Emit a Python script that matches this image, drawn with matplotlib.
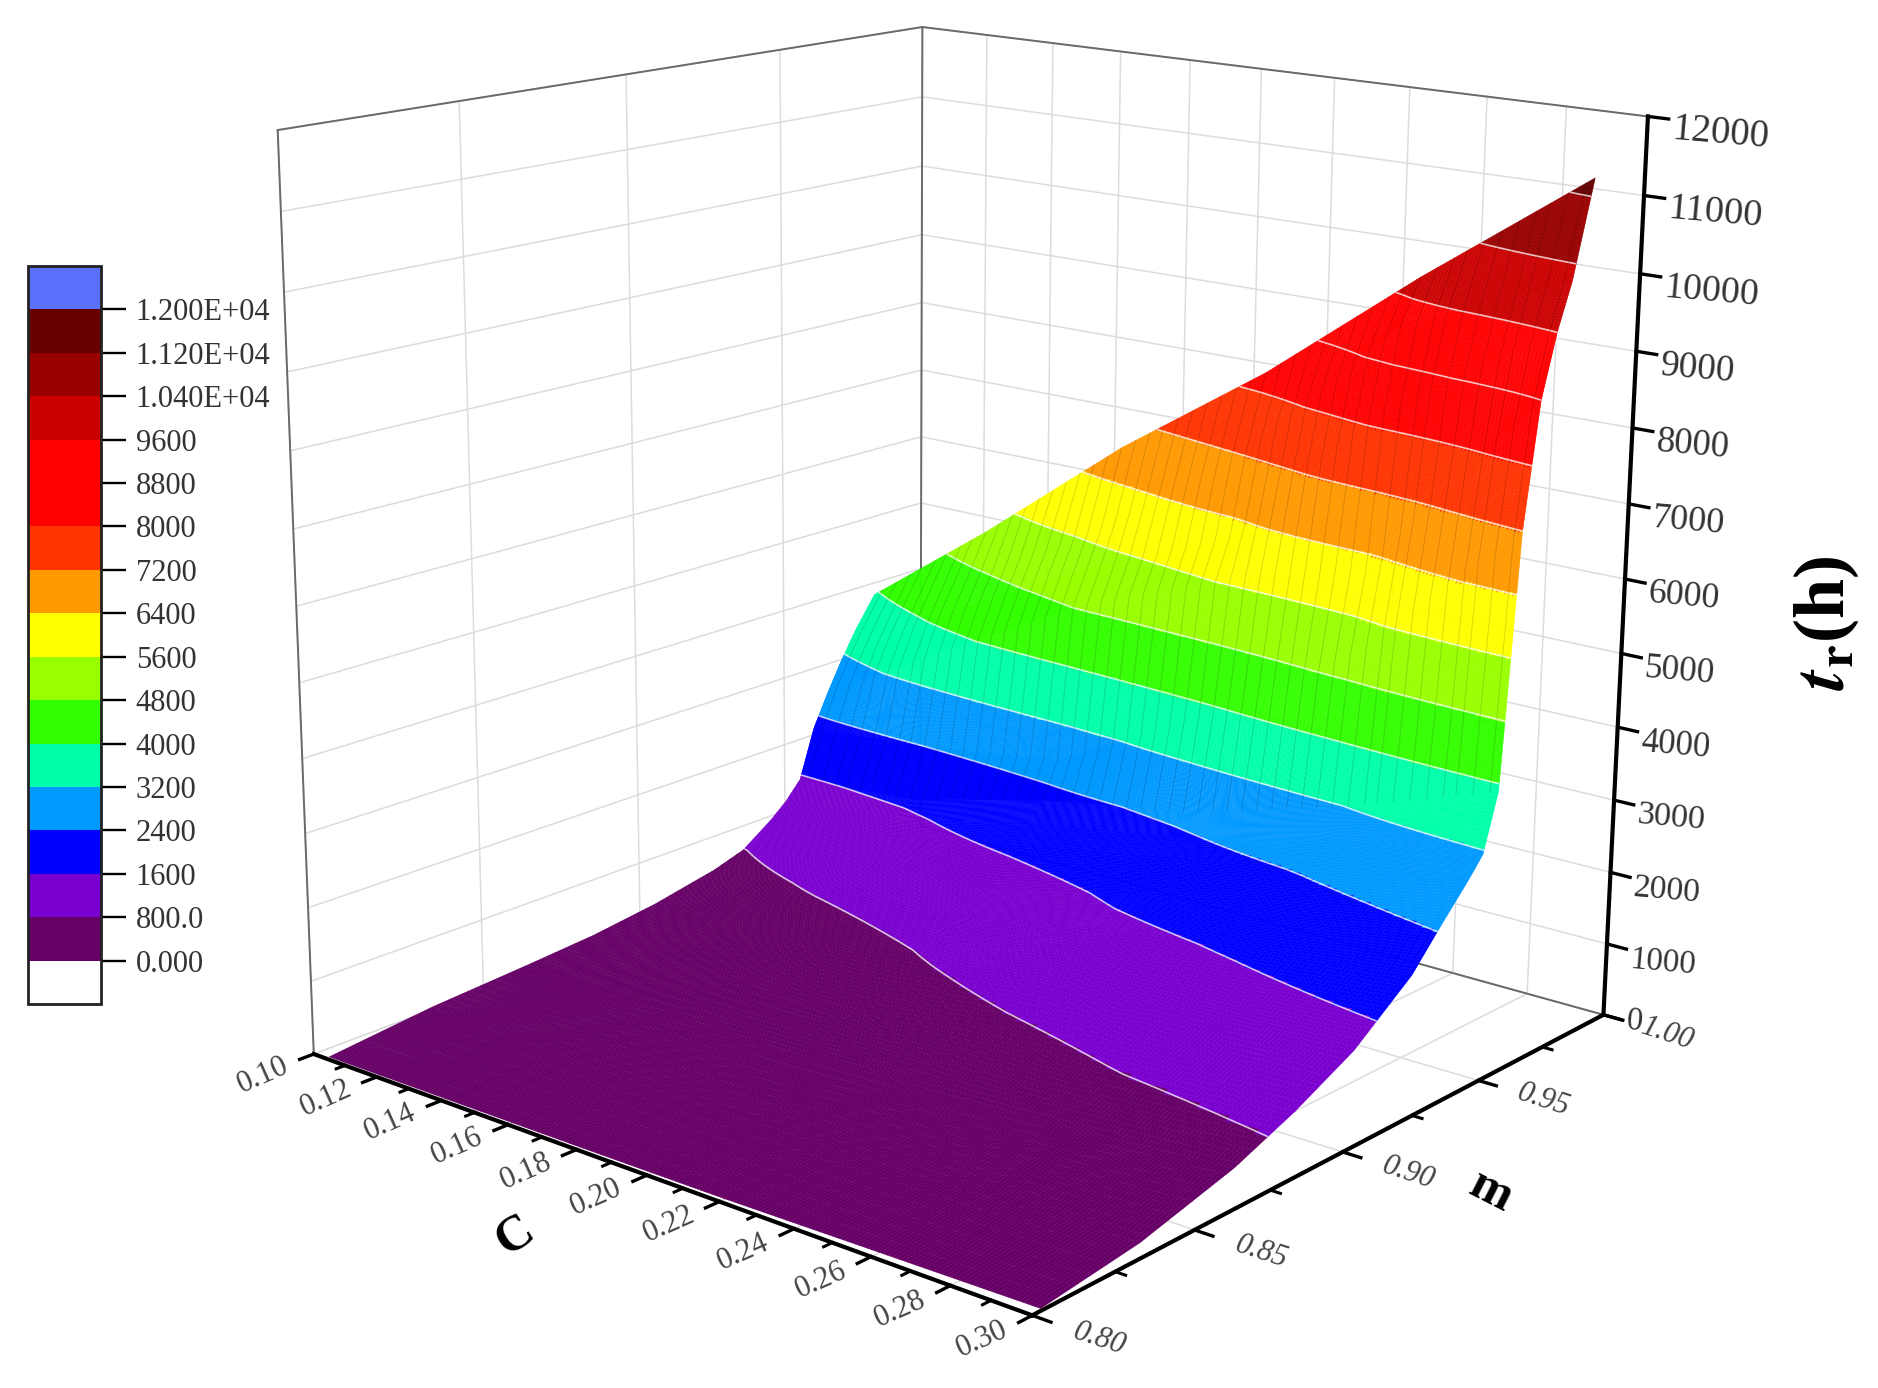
import numpy as np
import matplotlib
matplotlib.use("Agg")
import matplotlib.pyplot as plt
from matplotlib.colors import ListedColormap, BoundaryNorm
from matplotlib.cm import ScalarMappable
from mpl_toolkits.mplot3d import proj3d

plt.rcParams['font.family'] = ['Liberation Serif', 'DejaVu Serif']
plt.rcParams['mathtext.fontset'] = 'stix'

# surface: t_r over C (columns) and m (rows)
C_vals = [0.105, 0.14, 0.18, 0.22, 0.26, 0.302]
m_vals = [0.80, 0.83, 0.86, 0.88, 0.90, 0.92, 0.93, 0.94, 0.945, 0.95, 0.955, 0.96, 0.965, 0.97, 0.977]
tr_c10 = [40, 190, 280, 350, 470, 650, 790, 1100, 1290, 1540, 2240, 2700, 3120, 3500, 3950]
tr_c14 = [45, 140, 230, 320, 500, 860, 1080, 1340, 1480, 1700, 2400, 3700, 4240, 4640, 5250]
tr_c18 = [50, 120, 240, 400, 730, 1030, 1250, 1720, 1950, 2200, 2700, 4800, 5300, 5800, 6850]
tr_c22 = [60, 150, 340, 620, 1020, 1440, 1720, 2100, 2300, 2550, 3800, 5600, 6150, 7200, 8250]
tr_c26 = [90, 200, 450, 840, 1200, 1680, 2050, 2440, 2800, 3150, 5100, 6200, 8270, 9280, 9850]
tr_c30 = [120, 290, 620, 950, 1360, 1980, 2450, 2900, 3150, 3900, 7200, 8800, 9600, 10200, 11420]

levels = np.arange(0, 12001, 800)
band_colors = ['#660066', '#7a00d0', '#0000ff', '#0099ff', '#00ffaa', '#33ff00', '#99ff00', '#ffff00',
               '#ff9900', '#ff3300', '#ff0000', '#ff0000', '#cc0000', '#990000', '#660000']
bar_labels = ['0.000', '800.0', '1600', '2400', '3200', '4000', '4800', '5600', '6400', '7200', '8000',
              '8800', '9600', '1.040E+04', '1.120E+04', '1.200E+04']
C_major = [0.10, 0.12, 0.14, 0.16, 0.18, 0.20, 0.22, 0.24, 0.26, 0.28, 0.30]
C_minor = [0.11, 0.13, 0.15, 0.17, 0.19, 0.21, 0.23, 0.25, 0.27, 0.29]
m_major = [0.80, 0.85, 0.90, 0.95, 1.00]
m_minor = [0.825, 0.875, 0.925, 0.975]
z_major = list(range(0, 12001, 1000))

W, H = 1878, 1388
fig = plt.figure(figsize=(W/100, H/100), dpi=100)
ax = fig.add_axes([0.0827, -0.0142, 0.8454, 1.1438], projection='3d', computed_zorder=False)
ax.view_init(elev=15.63, azim=-50.29, roll=-0.34)
ax.set_box_aspect((0.993, 1.004, 1))
ax.set_proj_type('persp', focal_length=0.489)
ax.set_xlim(0.1, 0.3, view_margin=0)
ax.set_ylim(0.8, 1.0, view_margin=0)
ax.set_zlim(0, 12000, view_margin=0)
ax.set_xticks(C_major)
ax.set_yticks(m_major)
ax.set_zticks(z_major)
ax.set_xticklabels([])
ax.set_yticklabels([])
ax.set_zticklabels([])
for axis in (ax.xaxis, ax.yaxis, ax.zaxis):
    axis.set_pane_color('white')
    axis.pane.set_edgecolor('white')
    axis.line.set_color((0, 0, 0, 0))
    axis._axinfo['grid'].update(color='#dcdcdc', linewidth=1.1)
    axis._axinfo['tick'].update(inward_factor=0, outward_factor=0)

# box edges behind the surface
for cc, mm, zz in [([0.1, 0.1], [0.8, 0.8], [0, 12000]), ([0.1, 0.1], [1.0, 1.0], [0, 12000]),
                   ([0.1, 0.1], [0.8, 1.0], [12000, 12000]), ([0.1, 0.3], [1.0, 1.0], [12000, 12000]),
                   ([0.1, 0.3], [1.0, 1.0], [0, 0])]:
    ax.plot(cc, mm, zz, color='#6a6a6a', lw=1.4, zorder=1)

# fine mesh only to get clean band edges on the read-off surface
Z = np.array([tr_c10, tr_c14, tr_c18, tr_c22, tr_c26, tr_c30], dtype=float).T
def refine(v, counts):
    return np.concatenate([np.linspace(a, b, n, endpoint=False)
                           for a, b, n in zip(v[:-1], v[1:], counts)] + [[v[-1]]])
C_f = refine(C_vals, [40] * 5)
m_counts = np.maximum(6, np.ceil(np.abs(np.diff(Z, axis=0)).max(axis=1) / 30)).astype(int)
m_f = refine(m_vals, m_counts)
Z_c = np.array([np.interp(m_f, m_vals, Z[:, j]) for j in range(len(C_vals))]).T
Z_f = np.array([np.interp(C_f, C_vals, row) for row in Z_c])
CC, MM = np.meshgrid(C_f, m_f)

cmap = ListedColormap(band_colors)
norm = BoundaryNorm(levels, cmap.N)
mid = (Z_f[:-1, :-1] + Z_f[1:, :-1] + Z_f[:-1, 1:] + Z_f[1:, 1:]) / 4
surf = ax.plot_surface(CC, MM, Z_f, rstride=1, cstride=1, facecolors=cmap(norm(mid)), shade=False,
                       linewidth=0.3, antialiased=True, zorder=2)
surf.set_edgecolor(surf._facecolor3d)
cs = ax.contour(CC, MM, Z_f, levels=levels[1:-1], colors='white', linewidths=1.2, alpha=0.75, zorder=3)
cs.set_zorder(3)

# faint mesh lines on the steep part
steep = m_f >= 0.95
for c in np.arange(0.108, 0.3001, 0.004):
    j = np.argmin(abs(C_f - c))
    ax.plot(C_f[j] * np.ones(steep.sum()), m_f[steep], Z_f[steep, j], color='k', lw=0.8, alpha=0.13, zorder=4)

M = ax.get_proj()
def label(c, m, z, s, **kw):
    x2, y2, _ = proj3d.proj_transform(c, m, z, M)
    ax.text2D(x2, y2, s, transform=ax.transData, rotation_mode='anchor', va='center', **kw)

# axes drawn by hand, they sit on the box edges as in the original
ax.plot([0.1, 0.3], [0.8, 0.8], [0, 0], color='k', lw=3, zorder=5)
ax.plot([0.3, 0.3], [0.8, 1.0], [0, 0], color='k', lw=3, zorder=5)
ax.plot([0.3, 0.3], [1.0, 1.0], [0, 12000], color='k', lw=3, zorder=5)
for c in C_major:
    ax.plot([c, c], [0.8, 0.796], [0, 0], color='k', lw=2.4, zorder=5)
    label(c, 0.7925, 0, '%.2f' % c, rotation=24, ha='right', fontsize=22, color='#444444')
for c in C_minor:
    ax.plot([c, c], [0.8, 0.7975], [0, 0], color='k', lw=2.2, zorder=5)
for m in m_major:
    ax.plot([0.3, 0.3045], [m, m], [0, 0], color='k', lw=2.4, zorder=5)
    label(0.31, m, 0, '%.2f' % m, rotation=-18, ha='left', fontsize=22, color='#444444', style='italic')
for m in m_minor:
    ax.plot([0.3, 0.3025], [m, m], [0, 0], color='k', lw=2.2, zorder=5)
for z in z_major:
    ax.plot([0.3, 0.305], [1.0, 1.0], [z, z], color='k', lw=2.4, zorder=5)
    label(0.306, 1.0, z - 130 if z else 0, str(z), rotation=-5, ha='left',
          fontsize=23.5 + 4.5 * z / 12000, color='#333333')

fig.text(515/W, 1-1236/H, 'C', rotation=33, ha='center', va='center', fontsize=36, weight='bold')
fig.text(1491/W, 1-1192/H, 'm', rotation=-27, ha='center', va='center', fontsize=36, weight='bold')
fig.text(1826/W, 1-623/H, r'$\mathbfit{t}_{\mathbf{r}}$(h)', rotation=90, ha='center', va='center',
         fontsize=52, weight='bold')

# colour scale on the left
cax = fig.add_axes([28/W, 1-1004/H, 73/W, 738/H])
sm = ScalarMappable(norm=norm, cmap=cmap.with_extremes(over='#5a70ff', under='white'))
cb = fig.colorbar(sm, cax=cax, extend='both', extendrect=True, extendfrac=1/15, ticks=levels, spacing='uniform')
cb.ax.set_yticklabels(bar_labels)
cb.ax.tick_params(length=18, width=1.7, labelsize=22, pad=7, labelcolor='#333333')
cb.ax.minorticks_off()
cb.outline.set_linewidth(2)
cb.outline.set_edgecolor('#222222')

fig.savefig('out.png', dpi=100)
